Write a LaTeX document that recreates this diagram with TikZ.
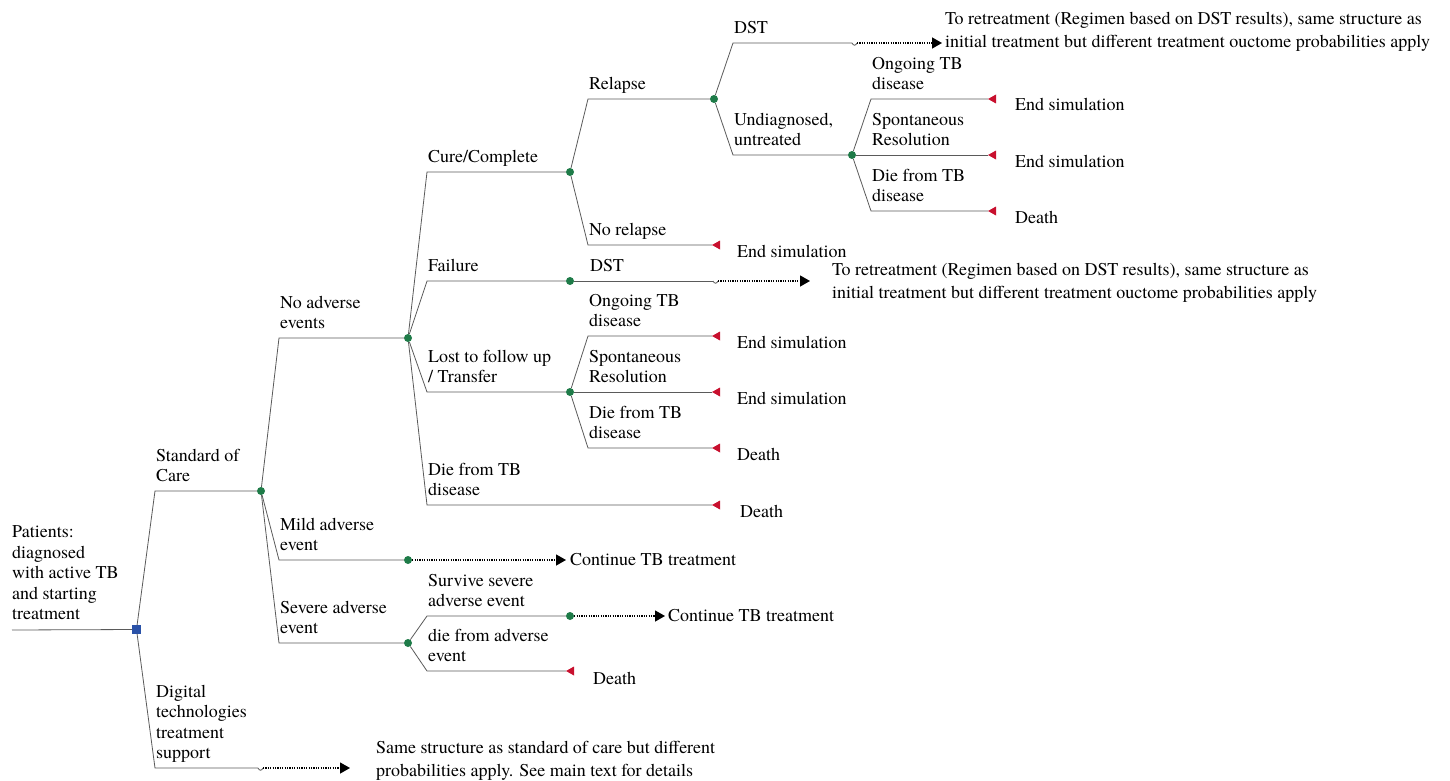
\documentclass[tikz,border=0pt]{standalone}
\usepackage{fontspec}
\setmainfont{TeX Gyre Termes}
\newfontfamily\tnr{TeX Gyre Termes}
\usetikzlibrary{arrows.meta}
\definecolor{lc}{HTML}{5A5A5A}
\definecolor{cg}{HTML}{1E7B48}
\definecolor{db}{HTML}{2A52A8}
\definecolor{tr}{HTML}{C8102E}
\newcommand\fs{\tnr\fontsize{18}{20.5}\selectfont}
\newcommand\fsb{\tnr\fontsize{18}{22.5}\selectfont}
\newcommand\termtri[1]{\fill[tr] (#1) -- ++(8,-4.5) -- ++(0,9) -- cycle;}
\newcommand\squig[1]{\draw[br] (#1) .. controls +(1.5,3) and +(-1.5,3) .. ++(5,0);}
\begin{document}
\begin{tikzpicture}[x=1pt,y=-1pt,
  br/.style={draw=lc,line width=0.8pt},
  dotl/.style={draw=black,line width=1.3pt,dash pattern=on 1.1pt off 1.3pt,-{Triangle[length=10pt,width=11pt]}},
  chance/.style={circle,fill=cg,inner sep=0pt,minimum size=8pt},
  decis/.style={rectangle,fill=db,inner sep=0pt,minimum width=8.5pt,minimum height=8.5pt},
  lbl/.style={anchor=south west,inner sep=0pt,align=left,font=\fs,execute at end node=\strut},
  endt/.style={anchor=base west,inner sep=0pt,font=\fs},
  note/.style={anchor=south west,inner sep=0pt,align=left,font=\fsb,execute at end node=\strut}]
\useasboundingbox (0,0) rectangle (1450,781);

% nodes
\coordinate (start) at (12,630);
\node[decis] (D) at (136.5,629.5) {};
\node[chance] (C1) at (261,491) {};
\coordinate (S0) at (258,768);
\coordinate (A0) at (350,768);
\node[chance] (C2) at (408,338) {};
\node[chance] (C3) at (408,560) {};
\coordinate (A3m) at (566,560);
\node[chance] (C4) at (408,643) {};
\node[chance] (C5) at (570,172) {};
\node[chance] (C6) at (570,281) {};
\node[chance] (C7) at (570,392) {};
\coordinate (T1) at (712,505);
\node[chance] (C8) at (714,99) {};
\coordinate (T2) at (712,245);
\coordinate (S1) at (852,43);
\coordinate (A1) at (942,43);
\node[chance] (C9) at (852,155) {};
\coordinate (T3) at (988,99);
\coordinate (T4) at (988,155);
\coordinate (T5) at (988,211);
\coordinate (S2) at (713,281);
\coordinate (A2) at (810,281);
\coordinate (T6) at (712,336);
\coordinate (T7) at (712,392);
\coordinate (T8) at (712,448);
\node[chance] (C10) at (570,616) {};
\coordinate (A4) at (665,616);
\coordinate (T9) at (566,671);

% branches
\draw[br] (start) -- (D);
\draw[br] (D) -- (155,491) -- (C1);
\draw[br] (D) -- (155,768) -- (S0);
\draw[br] (C1) -- (279,338) -- (C2);
\draw[br] (C1) -- (279,560) -- (C3);
\draw[br] (C1) -- (279,643) -- (C4);
\draw[br] (C2) -- (427,172) -- (C5);
\draw[br] (C2) -- (427,281) -- (C6);
\draw[br] (C2) -- (427,392) -- (C7);
\draw[br] (C2) -- (427,505) -- (T1);
\draw[br] (C5) -- (588,99) -- (C8);
\draw[br] (C5) -- (588,245) -- (T2);
\draw[br] (C8) -- (733,43) -- (S1);
\draw[br] (C8) -- (733,155) -- (C9);
\draw[br] (C9) -- (871,99) -- (T3);
\draw[br] (C9) -- (T4);
\draw[br] (C9) -- (871,211) -- (T5);
\draw[br] (C6) -- (S2);
\draw[br] (C7) -- (588,336) -- (T6);
\draw[br] (C7) -- (T7);
\draw[br] (C7) -- (588,448) -- (T8);
\draw[br] (C4) -- (427,616) -- (C10);
\draw[br] (C4) -- (427,671) -- (T9);

% squiggles and dotted continuations
\squig{S0} \squig{S1} \squig{S2}
\draw[dotl] ([xshift=5pt]S0) -- (A0);
\draw[dotl] ([xshift=5pt]S1) -- (A1);
\draw[dotl] ([xshift=5pt]S2) -- (A2);
\draw[dotl] (C3) -- (A3m);
\draw[dotl] (C10) -- (A4);

% terminals
\termtri{T1} \termtri{T2} \termtri{T3} \termtri{T4} \termtri{T5}
\termtri{T6} \termtri{T7} \termtri{T8} \termtri{T9}

% branch labels
\node[lbl] (Lpat) at (12,626) {Patients:\\diagnosed\\with active TB\\and starting\\treatment};
\node[lbl] (Lsoc) at (156,488) {Standard of\\Care};
\node[lbl] (Ldig) at (156,765) {Digital\\technologies\\treatment\\support};
\node[lbl] (Lnae) at (280,335) {No adverse\\events};
\node[lbl] (Lmild) at (280,557) {Mild adverse\\event};
\node[lbl] (Lsev) at (280,640) {Severe adverse\\event};
\node[lbl] (Lcure) at (428,169) {Cure/Complete};
\node[lbl] (Lfail) at (428,278) {Failure};
\node[lbl] (Llost) at (428,389) {Lost to follow up\\/ Transfer};
\node[lbl] (Ldie1) at (428,502) {Die from TB\\disease};
\node[lbl] (Lrel) at (589,96) {Relapse};
\node[lbl] (Lnorel) at (589,242) {No relapse};
\node[lbl] (Ldst2) at (590,278) {DST};
\node[lbl] (Long2) at (589,333) {Ongoing TB\\disease};
\node[lbl] (Lspo2) at (589,389) {Spontaneous\\Resolution};
\node[lbl] (Ldie2) at (589,445) {Die from TB\\disease};
\node[lbl] (Ldst1) at (734,40) {DST};
\node[lbl] (Lund) at (734,152) {Undiagnosed,\\untreated};
\node[lbl] (Long1) at (872,96) {Ongoing TB\\disease};
\node[lbl] (Lspo1) at (872,152) {Spontaneous\\Resolution};
\node[lbl] (Ldie3) at (872,208) {Die from TB\\disease};
\node[lbl] (Lsur) at (428,613) {Survive severe\\adverse event};
\node[lbl] (Ldae) at (428,668) {die from adverse\\event};

% outcome labels
\node[endt] (E1) at (740,517) {Death};
\node[endt] (E2) at (737,257) {End simulation};
\node[endt] (E3) at (1015,111) {End simulation};
\node[endt] (E4) at (1015,167) {End simulation};
\node[endt] (E5) at (1015,223) {Death};
\node[endt] (E6) at (737,348) {End simulation};
\node[endt] (E7) at (737,404) {End simulation};
\node[endt] (E8) at (737,460) {Death};
\node[endt] (E9) at (593,684) {Death};
\node[endt] (E10) at (570,565) {Continue TB treatment};
\node[endt] (E11) at (668,621) {Continue TB treatment};
\node[note] (N1) at (945,54) {To retreatment (Regimen based on DST results), same structure as\\initial treatment but different treatment ouctome probabilities apply};
\node[note] (N2) at (832,305) {To retreatment (Regimen based on DST results), same structure as\\initial treatment but different treatment ouctome probabilities apply};
\node[note] (N3) at (376,783) {Same structure as standard of care but different\\probabilities apply. See main text for details};
\end{tikzpicture}
\end{document}
